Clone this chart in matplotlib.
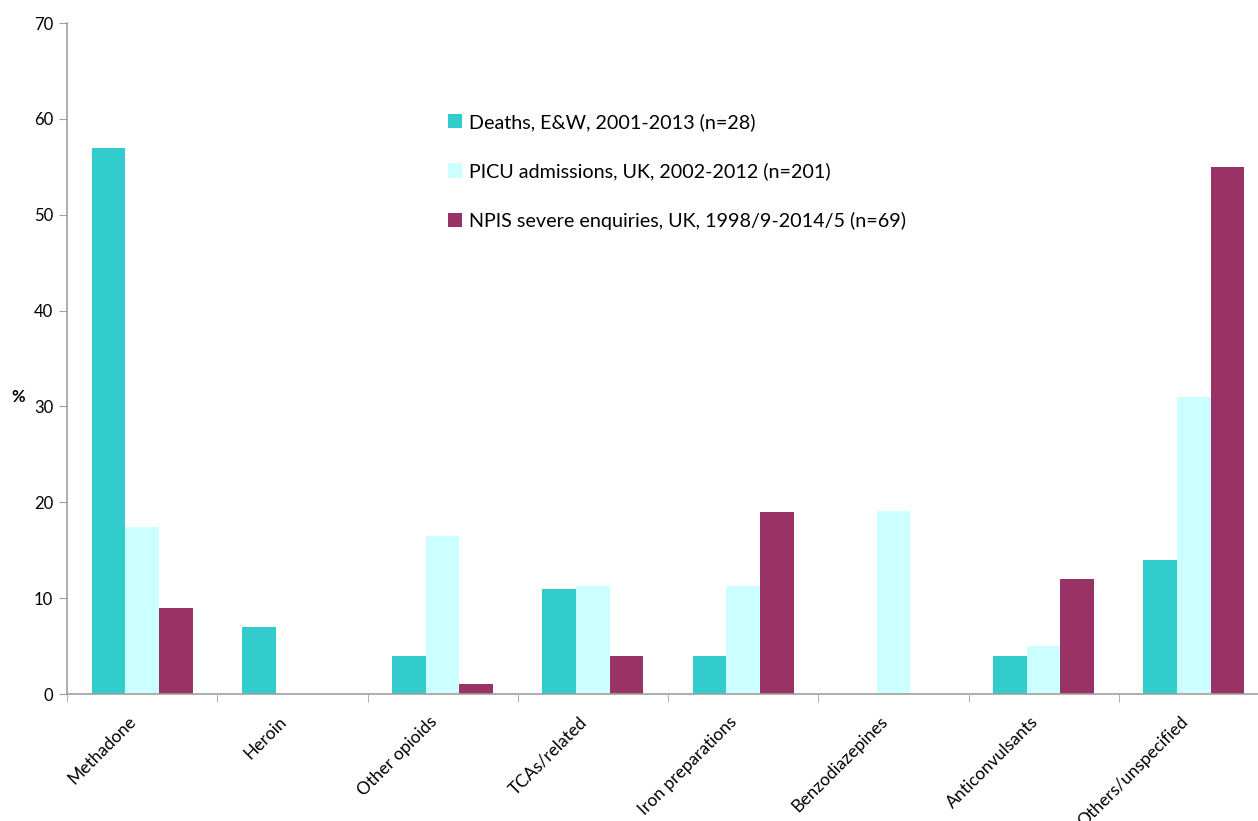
import matplotlib
matplotlib.use("Agg")
import matplotlib.pyplot as plt
import matplotlib.transforms as mtrans
import numpy as np

categories = ["Methadone", "Heroin", "Other opioids", "TCAs/related",
              "Iron preparations", "Benzodiazepines", "Anticonvulsants",
              "Others/unspecified"]
deaths = [57, 7, 4, 11, 4, 0, 4, 14]
picu = [17.4, 0, 16.5, 11.3, 11.3, 19.1, 5.0, 31.0]
npis = [9, 0, 1, 4, 19, 0, 12, 55]
series_labels = ["Deaths, E&W, 2001-2013 (n=28)",
                 "PICU admissions, UK, 2002-2012 (n=201)",
                 "NPIS severe enquiries, UK, 1998/9-2014/5 (n=69)"]
colors = ["#33CCCC", "#CCFFFF", "#993366"]

plt.rcParams['font.family'] = ['Lato', 'DejaVu Sans']

W, H = 1258, 821
fig = plt.figure(figsize=(W/100, H/100), dpi=100)
ax = fig.add_axes([67/W, 1 - 694/H, 1202/W, (694-23)/H])

x = np.arange(len(categories))
w = 0.224
for i, (vals, lab, c) in enumerate(zip([deaths, picu, npis], series_labels, colors)):
    ax.bar(x + (i - 1) * w, vals, width=w, color=c, label=lab)

ax.set_xlim(-0.5, len(categories) - 0.5)
ax.set_ylim(0, 70)
ax.set_yticks(range(0, 71, 10))
ax.set_xticks(x)
ax.set_xticklabels(categories, rotation=45, ha='right', rotation_mode='anchor', fontsize=12.5)
ax.tick_params(axis='x', length=0, pad=14)
off = mtrans.ScaledTranslation(-14/100, 0, fig.dpi_scale_trans)
for lbl in ax.get_xticklabels():
    lbl.set_transform(lbl.get_transform() + off)
ax.set_xticks(np.arange(-0.5, len(categories), 1), minor=True)
ax.tick_params(axis='x', which='minor', length=6, color='#A0A0A0', direction='out')
ax.tick_params(axis='y', length=6, color='#A0A0A0', labelsize=12, pad=4)

for s in ['top', 'right']:
    ax.spines[s].set_visible(False)
for s in ['left', 'bottom']:
    ax.spines[s].set_color('#A0A0A0')
    ax.spines[s].set_linewidth(1.2)

fig.text(18/W, 1 - 397/H, "%", fontsize=12, fontweight='bold', ha='center', va='center')

ax.legend(loc='upper left', bbox_to_anchor=(448/W, 1 - 113/H), bbox_transform=fig.transFigure,
          frameon=False, fontsize=14.2, labelspacing=1.6, handlelength=0.72, handleheight=0.72,
          handletextpad=0.35, borderaxespad=0, borderpad=0)

fig.savefig("out.png", dpi=100)
